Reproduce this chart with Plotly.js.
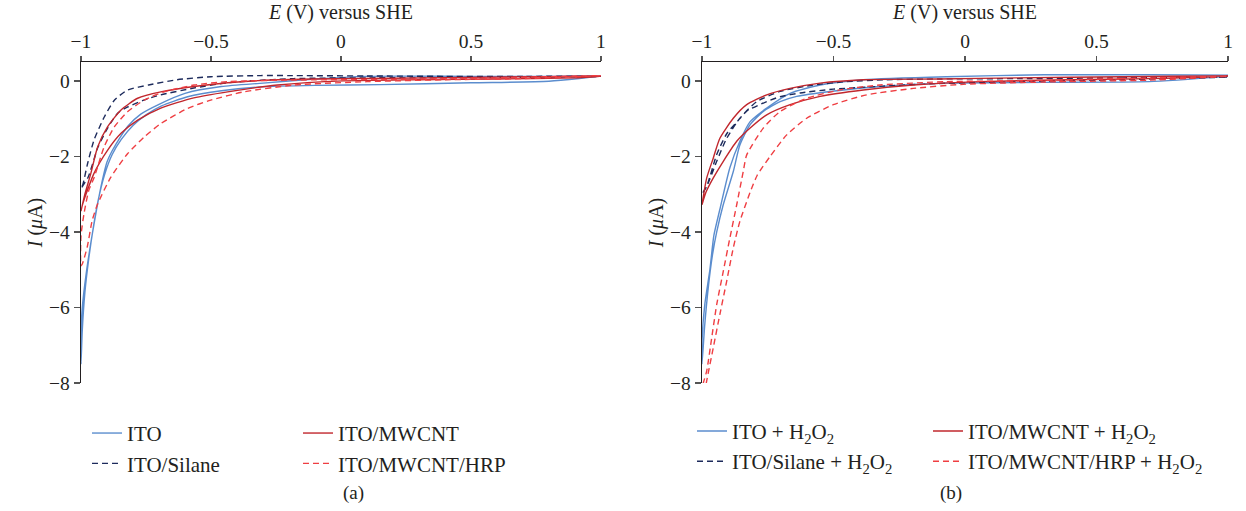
<!DOCTYPE html>
<html>
<head>
<meta charset="utf-8">
<script src="https://cdn.plot.ly/plotly-3.0.1.min.js"></script>
<style>
  html, body { margin: 0; padding: 0; background: #ffffff; }
  #chart { width: 1246px; height: 511px; }
</style>
</head>
<body>
<div id="chart"></div>
<script>
// Cyclic voltammograms: potential E (V vs SHE) and current I (µA).
// Each loop is the cathodic sweep (1 → −1 V) followed by the return sweep (−1 → 1 V).

// ---- (a) electrodes in buffer ----
const aITO_E = [1, 0.8, 0.5, 0.1, -0.1, -0.3, -0.46, -0.6, -0.7, -0.77, -0.82, -0.85, -0.88, -0.9, -0.92, -0.94, -0.96, -0.98, -0.995, -1,
                -1, -0.995, -0.985, -0.97, -0.953, -0.935, -0.91, -0.88, -0.845, -0.8, -0.75, -0.69, -0.59, -0.46, -0.31, -0.1, 0.15, 0.5, 0.8, 1];
const aITO_I = [0.13, 0.12, 0.12, 0.12, 0.05, -0.06, -0.15, -0.33, -0.62, -0.88, -1.2, -1.5, -1.85, -2.15, -2.7, -3.4, -4.2, -5.1, -6.0, -6.7,
                -7.5, -6.6, -5.6, -4.7, -3.9, -3.2, -2.5, -1.95, -1.55, -1.18, -0.9, -0.66, -0.42, -0.26, -0.16, -0.12, -0.1, -0.05, -0.01, 0.13];

const aSil_E = [1, 0.7, 0.4, 0.1, -0.2, -0.31, -0.5, -0.63, -0.74, -0.82, -0.87, -0.91, -0.95, -0.975, -0.993, -1,
                -1, -0.973, -0.935, -0.896, -0.858, -0.82, -0.758, -0.693, -0.566, -0.436, -0.182, 0.1, 0.5, 0.8, 1];
const aSil_I = [0.12, 0.12, 0.12, 0.13, 0.14, 0.14, 0.11, 0.03, -0.11, -0.24, -0.5, -0.95, -1.57, -2.2, -2.75, -2.85,
                -2.85, -2.56, -1.76, -1.23, -0.85, -0.69, -0.51, -0.37, -0.19, -0.05, 0.06, 0.08, 0.08, 0.1, 0.12];

const aCNT_E = [1, 0.6, 0.2, -0.1, -0.244, -0.436, -0.566, -0.693, -0.782, -0.846, -0.898, -0.936, -0.962, -0.985, -1,
                -1, -0.993, -0.95, -0.898, -0.846, -0.782, -0.693, -0.566, -0.436, -0.244, 0.01, 0.3, 0.6, 0.9, 1];
const aCNT_I = [0.12, 0.1, 0.07, 0.05, 0.03, -0.05, -0.15, -0.29, -0.46, -0.77, -1.22, -1.75, -2.45, -3.0, -3.45,
                -3.45, -3.25, -2.45, -1.84, -1.39, -1.04, -0.72, -0.45, -0.29, -0.11, 0.0, 0.03, 0.05, 0.08, 0.12];

const aHRP_E = [1, 0.6, 0.2, -0.2, -0.437, -0.565, -0.68, -0.757, -0.821, -0.872, -0.911, -0.949, -0.97, -0.988, -1,
                -1, -0.995, -0.976, -0.957, -0.936, -0.885, -0.821, -0.757, -0.693, -0.59, -0.501, -0.373, -0.181, 0.1, 0.4, 0.7, 1];
const aHRP_I = [0.14, 0.08, 0.04, 0.02, -0.02, -0.11, -0.29, -0.51, -0.82, -1.22, -1.75, -2.55, -2.9, -3.5, -4.1,
                -4.9, -4.85, -4.4, -3.7, -3.26, -2.55, -1.93, -1.49, -1.13, -0.73, -0.51, -0.29, -0.11, -0.02, 0.03, 0.06, 0.14];

// ---- (b) electrodes with H2O2 ----
const bITO_E = [1, 0.7, 0.3, -0.07, -0.387, -0.551, -0.665, -0.754, -0.817, -0.856, -0.894, -0.932, -0.955, -0.97, -0.989, -1,
                -1, -0.99, -0.975, -0.96, -0.944, -0.92, -0.881, -0.856, -0.817, -0.767, -0.703, -0.64, -0.513, -0.323, -0.07, 0.3, 0.7, 1];
const bITO_I = [0.15, 0.16, 0.16, 0.11, 0.03, -0.11, -0.33, -0.72, -1.08, -1.6, -2.3, -3.4, -4.1, -5.0, -5.9, -6.9,
                -7.5, -6.5, -5.4, -4.6, -4.0, -3.3, -2.4, -1.7, -1.16, -0.81, -0.55, -0.41, -0.28, -0.15, -0.06, -0.04, -0.02, 0.12];

const bSil_E = [1, 0.6, 0.2, -0.1, -0.3, -0.45, -0.577, -0.703, -0.792, -0.856, -0.906, -0.944, -0.982, -1,
                -1, -0.98, -0.944, -0.906, -0.856, -0.83, -0.754, -0.703, -0.627, -0.501, -0.311, -0.1, 0.2, 0.6, 1];
const bSil_I = [0.1, 0.08, 0.06, 0.05, 0.03, -0.02, -0.11, -0.28, -0.55, -0.99, -1.52, -2.13, -2.8, -3.0,
                -3.0, -2.75, -1.95, -1.4, -1.0, -0.8, -0.55, -0.42, -0.32, -0.22, -0.14, -0.07, -0.02, 0.03, 0.1];

const bCNT_E = [1, 0.6, 0.2, -0.1, -0.387, -0.551, -0.665, -0.754, -0.83, -0.881, -0.932, -0.957, -0.982, -1,
                -1, -0.985, -0.957, -0.919, -0.868, -0.817, -0.754, -0.665, -0.551, -0.387, -0.197, 0.057, 0.4, 0.7, 1];
const bCNT_I = [0.13, 0.11, 0.08, 0.05, 0.03, -0.06, -0.2, -0.37, -0.63, -0.99, -1.52, -2.04, -2.57, -3.28,
                -3.28, -2.95, -2.57, -2.13, -1.6, -1.25, -0.9, -0.63, -0.41, -0.24, -0.11, -0.02, 0.03, 0.06, 0.13];

const bHRP_E = [1, 0.6, 0.2, -0.07, -0.323, -0.475, -0.602, -0.703, -0.767, -0.83, -0.843, -0.868, -0.894, -0.919, -0.944, -0.963, -0.982, -0.995, -1,
                -1, -0.982, -0.957, -0.932, -0.906, -0.881, -0.856, -0.817, -0.79, -0.741, -0.678, -0.602, -0.501, -0.374, -0.197, -0.006, 0.3, 0.7, 1];
const bHRP_I = [0.12, 0.06, 0.0, -0.02, -0.11, -0.24, -0.46, -0.81, -1.25, -1.96, -2.39, -3.28, -4.16, -5.04, -5.92, -6.8, -7.68, -8.0, -8.2,
                -8.6, -7.94, -7.06, -6.18, -5.3, -4.42, -3.72, -2.95, -2.5, -2.0, -1.43, -0.99, -0.63, -0.37, -0.2, -0.09, -0.03, 0.02, 0.12];

const xTicks = [-1, -0.5, 0, 0.5, 1];
const yTicks = [0, -2, -4, -6, -8];

const COL_ITO = '#5b8dce';
const COL_SIL = '#1d2b5c';
const COL_CNT = '#c1272d';
const COL_HRP = '#ef3e42';
const TEXT = '#231f20';
const FONT = 'Liberation Serif, Times New Roman, serif';
const DASH = '6px,4px';

function loop(E, I, name, color, dash, xa, ya, legend) {
  return {
    type: 'scatter', mode: 'lines', x: E, y: I, name: name,
    xaxis: xa, yaxis: ya, legend: legend,
    line: { color: color, width: 1.4, dash: dash, shape: 'spline', smoothing: 0.6 },
    hoverinfo: 'skip'
  };
}

const H2O2 = ' + H<sub>2</sub>O<sub>2</sub>';
const data = [
  loop(aITO_E, aITO_I, 'ITO', COL_ITO, 'solid', 'x', 'y', 'legend'),
  loop(aSil_E, aSil_I, 'ITO/Silane', COL_SIL, DASH, 'x', 'y', 'legend'),
  loop(aCNT_E, aCNT_I, 'ITO/MWCNT', COL_CNT, 'solid', 'x', 'y', 'legend2'),
  loop(aHRP_E, aHRP_I, 'ITO/MWCNT/HRP', COL_HRP, DASH, 'x', 'y', 'legend2'),
  loop(bITO_E, bITO_I, 'ITO' + H2O2, COL_ITO, 'solid', 'x2', 'y2', 'legend3'),
  loop(bSil_E, bSil_I, 'ITO/Silane' + H2O2, COL_SIL, DASH, 'x2', 'y2', 'legend3'),
  loop(bCNT_E, bCNT_I, 'ITO/MWCNT' + H2O2, COL_CNT, 'solid', 'x2', 'y2', 'legend4'),
  loop(bHRP_E, bHRP_I, 'ITO/MWCNT/HRP' + H2O2, COL_HRP, DASH, 'x2', 'y2', 'legend4')
];

function signed(v) { return (v < 0 ? '\u2212' : '') + Math.abs(v); }

function xAxis(domain, anchor) {
  return {
    domain: domain, anchor: anchor, side: 'top', range: [-1, 1],
    tickmode: 'array', tickvals: xTicks, ticktext: xTicks.map(signed),
    ticks: 'outside', ticklen: 5, tickwidth: 1.3, tickcolor: '#555555',
    showline: true, linecolor: TEXT, linewidth: 1.3,
    showgrid: false, zeroline: false,
    tickfont: { size: 19.5, color: TEXT },
    title: { text: '<i>E</i> (V) versus SHE', font: { size: 20, color: TEXT }, standoff: 6 }
  };
}
function yAxis(anchor) {
  return {
    domain: [0.2505, 0.8787], anchor: anchor, range: [-8, 0.5],
    tickmode: 'array', tickvals: yTicks, ticktext: yTicks.map(signed),
    ticks: 'outside', ticklen: 6, tickwidth: 1.3, tickcolor: '#555555',
    showline: true, linecolor: TEXT, linewidth: 1.3,
    showgrid: false, zeroline: false,
    tickfont: { size: 19.5, color: TEXT },
    title: { text: '<i>I</i> (<i>\u03bc</i>A)', font: { size: 20, color: TEXT }, standoff: 1 }
  };
}
function legendBox(px, yTop) {
  return {
    orientation: 'v', x: px / 1246, y: yTop, xanchor: 'left', yanchor: 'top',
    traceorder: 'normal', tracegroupgap: 0,
    bgcolor: 'rgba(0,0,0,0)', borderwidth: 0,
    font: { size: 21, color: TEXT }
  };
}

const layout = {
  width: 1246, height: 511,
  margin: { l: 0, r: 0, t: 0, b: 0 },
  paper_bgcolor: '#ffffff', plot_bgcolor: '#ffffff',
  font: { family: FONT, color: TEXT },
  showlegend: true,
  xaxis: xAxis([0.065, 0.4823], 'y'),
  yaxis: yAxis('x'),
  xaxis2: xAxis([0.5634, 0.9856], 'y2'),
  yaxis2: yAxis('x2'),
  legend: legendBox(87, 0.192),
  legend2: legendBox(298, 0.192),
  legend3: legendBox(692, 0.196),
  legend4: legendBox(928, 0.196),
  annotations: [
    { text: '(a)', x: 0.2737, y: 1 - 493 / 511, xref: 'paper', yref: 'paper', yanchor: 'middle', showarrow: false, font: { size: 19, color: TEXT } },
    { text: '(b)', x: 0.7737, y: 1 - 493 / 511, xref: 'paper', yref: 'paper', yanchor: 'middle', showarrow: false, font: { size: 19, color: TEXT } }
  ]
};

Plotly.newPlot('chart', data, layout, { staticPlot: true, displayModeBar: false });
</script>
</body>
</html>
